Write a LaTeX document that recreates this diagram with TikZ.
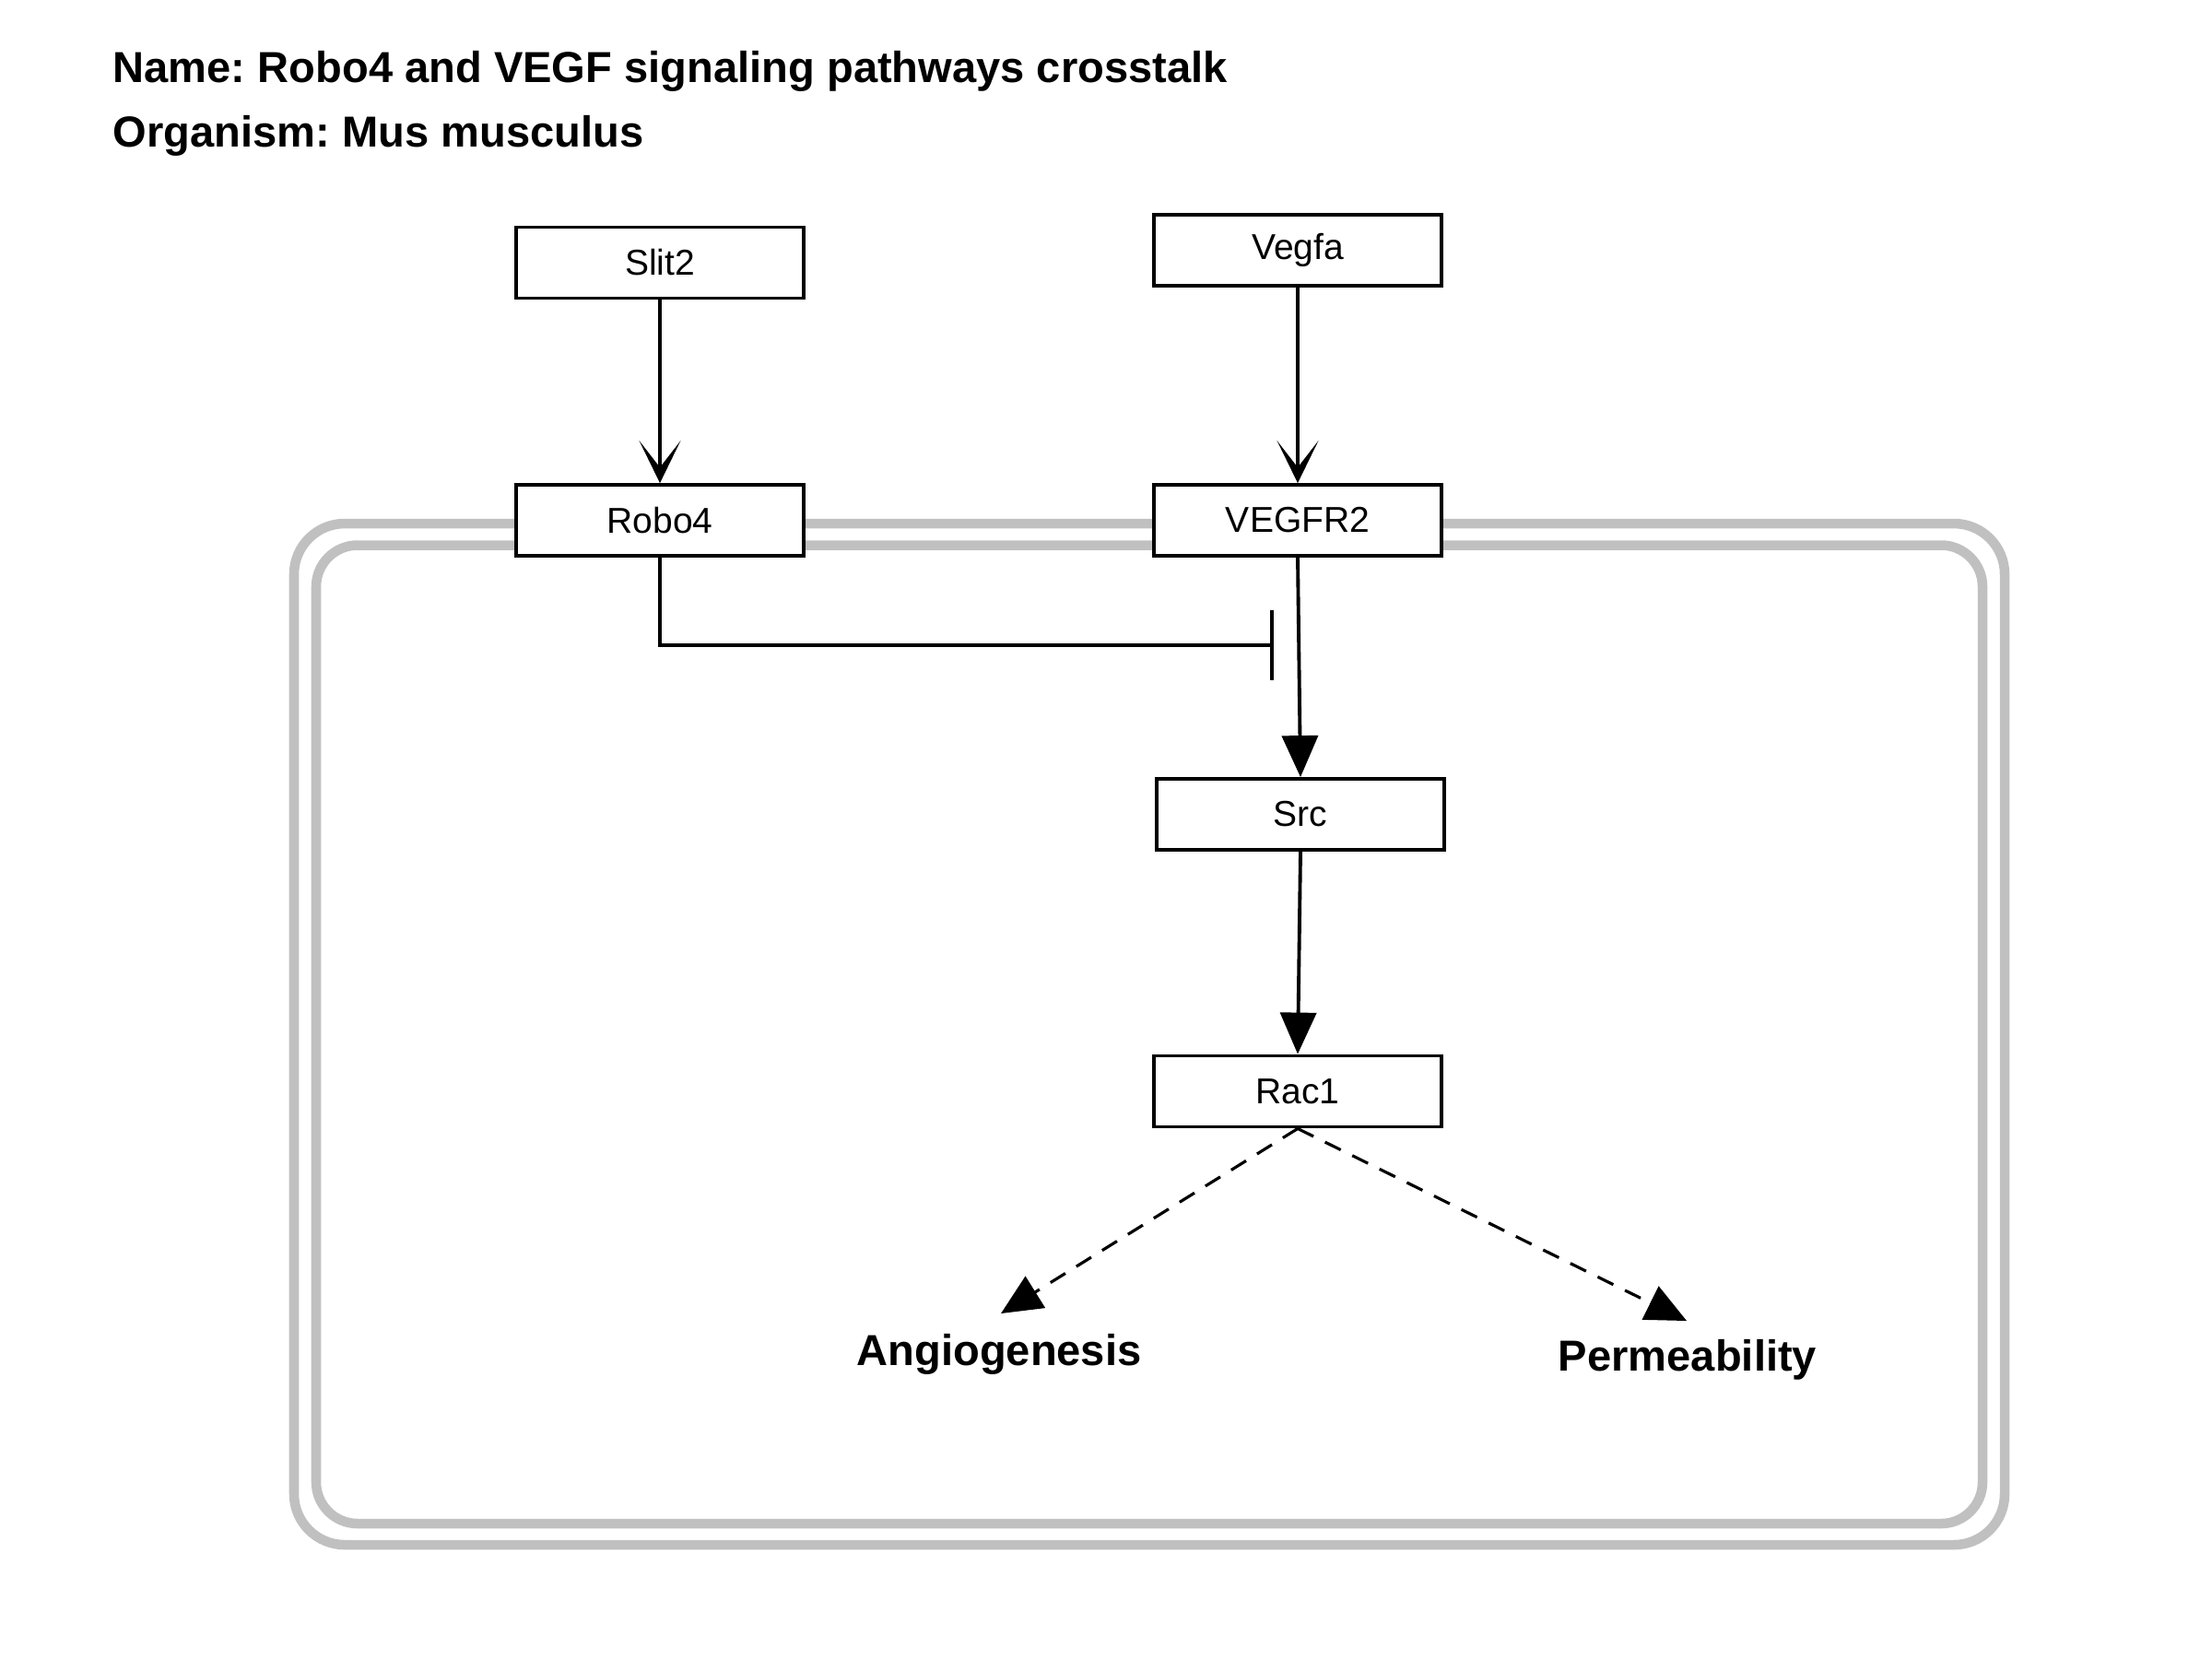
\documentclass[tikz,border=0pt]{standalone}
\usepackage{fontspec}
\setmainfont{Liberation Sans}
\usetikzlibrary{arrows.meta,positioning}
\frenchspacing

\definecolor{cellgray}{RGB}{192,192,192}

\tikzset{
  gene/.style={draw, line width=1.1pt, fill=white, minimum width=3.12cm, minimum height=0.77cm, inner sep=0pt, font=\fontsize{11.1}{13}\selectfont},
  heading/.style={anchor=base west, inner sep=0pt, font=\bfseries\fontsize{13.4}{16}\selectfont},
  outcome/.style={anchor=base, inner sep=0pt, font=\bfseries\fontsize{13.4}{16}\selectfont},
  binds/.style={line width=1pt, -{Stealth[length=4.6mm, width=4.5mm, inset=2.9mm]}},
  activates/.style={line width=1.1pt, -{Triangle[length=4.5mm, width=3.9mm]}},
  inhibits/.style={line width=1.1pt, -{Bar[width=7.6mm, line width=1.1pt]}},
  leadsto/.style={line width=0.9pt, dash pattern=on 1.9mm off 1.4mm, -{Triangle[length=4.4mm, width=4mm]}},
  membrane/.style={draw=cellgray, line width=3pt}
}

\begin{document}
\begin{tikzpicture}
  \useasboundingbox (0,0) rectangle (24,-18);

  % cell
  \draw[membrane, rounded corners=5.5mm] (3.19,-5.68) rectangle (21.75,-16.76);
  \draw[membrane, rounded corners=4.5mm] (3.43,-5.915) rectangle (21.51,-16.53);

  \node[heading] (title) at (1.22,-0.89) {Name: Robo4 and VEGF signaling pathways crosstalk};
  \node[heading] (organism) at (1.22,-1.59) {Organism: Mus musculus};

  \node[gene] (slit) at (7.16,-2.85) {Slit2};
  \node[gene] (vegfa) at (14.08,-2.715) {Vegfa};
  \node[gene] (robo) at (7.16,-5.645) {Robo4};
  \node[gene] (vegfr) at (14.08,-5.645) {VEGFR2};
  \node[gene] (src) at (14.11,-8.835) {Src};
  \node[gene] (rac) at (14.08,-11.84) {Rac1};

  \node[outcome] (angio) at (10.84,-14.81) {Angiogenesis};
  \node[outcome] (perm) at (18.31,-14.87) {Permeability};

  \coordinate (block) at (13.82,-7.00);
  \coordinate (angiotip) at (10.86,-14.25);
  \coordinate (permtip) at (18.30,-14.33);

  \draw[binds] (slit) -- (robo);
  \draw[binds] (vegfa) -- (vegfr);
  \draw[activates] (vegfr.south) -- (src.north);
  \draw[activates] (src.south) -- (rac.north);
  \draw[inhibits] (robo.south) |- (block);
  \draw[leadsto] (rac.south) -- (angiotip);
  \draw[leadsto] (rac.south) -- (permtip);
\end{tikzpicture}
\end{document}
